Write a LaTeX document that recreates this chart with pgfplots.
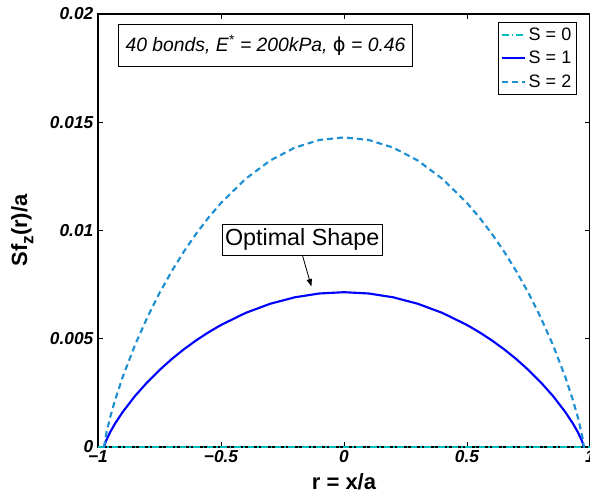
\documentclass[border=0pt]{standalone}
\usepackage{fontspec}
\setmainfont{Liberation Sans}
\newfontfamily\dejavu{DejaVu Sans}
\usepackage{pgfplots}
\pgfplotsset{compat=1.18}
\usetikzlibrary{arrows.meta}
\definecolor{szero}{rgb}{0,0.75,0.75}
\definecolor{sone}{rgb}{0,0,1}
\definecolor{stwo}{rgb}{0.12,0.56,0.83}

% S = 1 profile (symmetric)
\pgfplotstableread{
r y
-0.975 0
-0.97 0.000200
-0.965 0.000343
-0.95 0.000698
-0.93 0.001095
-0.90 0.001610
-0.85 0.002349
-0.80 0.002988
-0.75 0.003555
-0.70 0.004063
-0.65 0.004521
-0.60 0.004933
-0.55 0.005303
-0.50 0.005636
-0.40 0.006193
-0.30 0.006616
-0.20 0.006914
-0.10 0.007091
0 0.00715
0.10 0.007091
0.20 0.006914
0.30 0.006616
0.40 0.006193
0.50 0.005636
0.55 0.005303
0.60 0.004933
0.65 0.004521
0.70 0.004063
0.75 0.003555
0.80 0.002988
0.85 0.002349
0.90 0.001610
0.93 0.001095
0.95 0.000698
0.965 0.000343
0.97 0.000200
0.975 0
}\sone

% S = 2 profile
\pgfplotstableread{
r y
-0.975 0
-0.97 0.000401
-0.965 0.000687
-0.95 0.001395
-0.93 0.002189
-0.90 0.003221
-0.85 0.004698
-0.80 0.005976
-0.75 0.007111
-0.70 0.008126
-0.65 0.009041
-0.60 0.009865
-0.55 0.010607
-0.50 0.011271
-0.40 0.012385
-0.30 0.013233
-0.20 0.013829
-0.10 0.014182
0 0.0143
0.10 0.014182
0.20 0.013829
0.30 0.013233
0.40 0.012385
0.50 0.011271
0.55 0.010607
0.60 0.009865
0.65 0.009041
0.70 0.008126
0.75 0.007111
0.80 0.005976
0.85 0.004698
0.90 0.003221
0.93 0.002189
0.95 0.001395
0.965 0.000687
0.97 0.000401
0.975 0
}\stwo

\begin{document}
\begin{tikzpicture}
\begin{axis}[name=ax,
  width=369pt, height=324.75pt, scale only axis,
  xmin=-1, xmax=1, ymin=0, ymax=0.02,
  xtick={-1,-0.5,0,0.5,1}, xticklabels={−1,−0.5,0,0.5,1},
  ytick={0,0.005,0.01,0.015,0.02}, yticklabels={0,0.005,0.01,0.015,0.02},
  scaled y ticks=false,
  tick align=inside, major tick length=3.5pt,
  axis line style={line width=0.9pt},
  every tick/.style={black, line width=0.6pt},
  ticklabel style={font=\fontsize{13}{15}\selectfont\bfseries\itshape},
  xticklabel style={yshift=1pt},
  xlabel={\bfseries r = x/a},
  ylabel={\bfseries Sf\raisebox{-0.55ex}{\fontsize{13}{13}\selectfont z}(r)/a},
  label style={font=\fontsize{16.5}{19}\selectfont},
  xlabel style={at={(axis description cs:0.5,-0.0993)}, anchor=base},
  ylabel style={at={(axis description cs:-0.1443,0.5)}, anchor=base, rotate=0},
  clip=false,
  legend cell align=left,
  legend style={at={(0.9736,0.9815)}, anchor=north east, draw=black, line width=0.6pt,
    font=\fontsize{13.5}{16}\selectfont, row sep=2.6pt, inner xsep=2pt, inner ysep=2pt},
  legend image code/.code={\draw[#1] (0pt,0pt) -- (17pt,0pt);},
]
\addplot[szero, line width=1.5pt, dash pattern=on 5pt off 2pt on 1.2pt off 2pt] coordinates {(-1,0) (1,0)};
\addlegendentry{S = 0}
\addplot[sone, line width=1.6pt] table[x=r,y=y] {\sone};
\addlegendentry{S = 1}
\addplot[stwo, line width=1.6pt, dash pattern=on 4.5pt off 3pt] table[x=r,y=y] {\stwo};
\addlegendentry{S = 2}

\node[draw=black, line width=0.6pt, fill=white, minimum width=221pt, minimum height=31.5pt, inner sep=0pt,
  font=\fontsize{14.5}{17}\selectfont\itshape] at (axis description cs:0.3404,0.928)
  {40 bonds, E\textsuperscript{*} = 200kPa, {\dejavu\upshape ϕ} = 0.46};
\node[draw=black, line width=0.6pt, fill=white, inner xsep=2pt, inner ysep=0pt, minimum height=23.25pt,
  font=\fontsize{17.5}{20}\selectfont] at (axis cs:-0.170,0.00958) {Optimal Shape};
\draw[-{Latex[length=6pt,width=4.5pt]}, line width=0.6pt] (axis cs:-0.168,0.00882) -- (axis cs:-0.132,0.00739);
\end{axis}
\pgfresetboundingbox
\path (ax.south west) ++(-73.5pt,-34.5pt) rectangle ++(442.5pt,369.75pt);
\end{tikzpicture}
\end{document}
